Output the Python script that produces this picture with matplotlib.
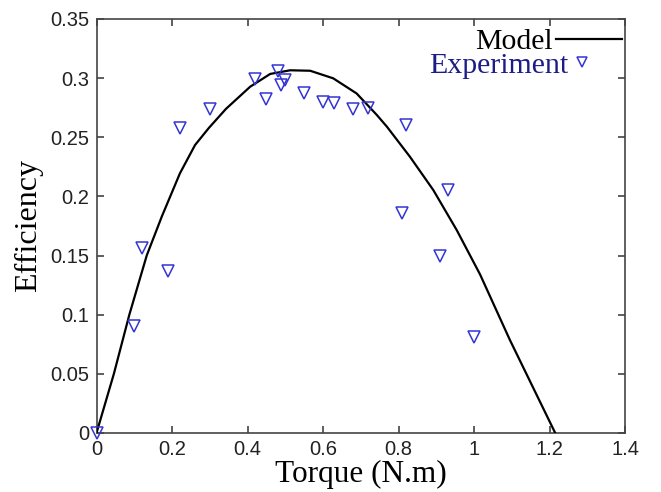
import matplotlib
matplotlib.use("Agg")
import matplotlib.pyplot as plt
from matplotlib.lines import Line2D

# model curve
model_torque = [0.0, 0.046, 0.087, 0.133, 0.173, 0.221, 0.261, 0.298, 0.343, 0.407,
                0.460, 0.513, 0.566, 0.627, 0.689, 0.742, 0.769, 0.830, 0.892, 0.954,
                1.016, 1.095, 1.215]
model_eff = [0.0, 0.050, 0.100, 0.150, 0.183, 0.2195, 0.2434, 0.258, 0.274, 0.2927,
             0.3035, 0.3066, 0.3062, 0.2998, 0.287, 0.269, 0.259, 0.2336, 0.2054, 0.1716,
             0.134, 0.0786, 0.0]

# experimental points
exp_torque = [0.0, 0.10, 0.12, 0.19, 0.22, 0.30, 0.42, 0.45, 0.48, 0.49, 0.50,
              0.55, 0.60, 0.63, 0.68, 0.72, 0.81, 0.82, 0.91, 0.93, 1.00]
exp_eff = [0.0, 0.090, 0.156, 0.137, 0.258, 0.274, 0.299, 0.282, 0.306, 0.294, 0.298,
           0.287, 0.280, 0.279, 0.274, 0.275, 0.186, 0.260, 0.150, 0.205, 0.081]

xticks = [0, 0.2, 0.4, 0.6, 0.8, 1.0, 1.2, 1.4]
xtick_labels = ["0", "0.2", "0.4", "0.6", "0.8", "1", "1.2", "1.4"]
yticks = [0, 0.05, 0.1, 0.15, 0.2, 0.25, 0.3, 0.35]
ytick_labels = ["0", "0.05", "0.1", "0.15", "0.2", "0.25", "0.3", "0.35"]

SERIF = "Liberation Serif"
SANS = "Liberation Sans"
MARK = "#3434d4"

fig = plt.figure(figsize=(6.61, 4.92), dpi=100)
ax = fig.add_axes([0.146, 0.120, 0.7996, 0.8415])

line, = ax.plot(model_torque, model_eff, color="black", lw=1.6, zorder=3,
                solid_joinstyle="round")
pts, = ax.plot(exp_torque, exp_eff, linestyle="none", marker="v", ms=8,
               mfc="none", mec=MARK, mew=1.1, zorder=4, clip_on=False)

ax.set_xlim(0, 1.4)
ax.set_ylim(0, 0.35)
ax.set_xticks(xticks)
ax.set_xticklabels(xtick_labels, fontfamily=SANS, fontsize=14.5, color="#222222")
ax.set_yticks(yticks)
ax.set_yticklabels(ytick_labels, fontfamily=SANS, fontsize=14.5, color="#222222")
ax.tick_params(direction="in", length=5, width=1.1, top=True, right=True,
               color="#333333", pad=5)
for s in ax.spines.values():
    s.set_color("#444444")
    s.set_linewidth(1.2)

ax.set_xlabel("Torque (N.m)", fontfamily=SERIF, fontsize=22.5, labelpad=1)
ax.set_ylabel("Efficiency", fontfamily=SERIF, fontsize=23, labelpad=5)

# legend: text first, sample after
leg1 = ax.legend([line], ["Model"], loc="center right", bbox_to_anchor=(0.994, 0.945),
                 markerfirst=False, frameon=False, borderpad=0, borderaxespad=0,
                 handlelength=2.2, handletextpad=0.1,
                 prop={"family": SERIF, "size": 21.5})
ax.add_artist(leg1)
exp_handle = Line2D([], [], linestyle="none", marker="v", ms=7, mfc="none",
                    mec=MARK, mew=1.1)
leg2 = ax.legend([exp_handle], ["Experiment"], loc="center right",
                 bbox_to_anchor=(0.935, 0.888), markerfirst=False, frameon=False,
                 borderpad=0, borderaxespad=0, handlelength=0.6, handletextpad=0.15,
                 numpoints=1, prop={"family": SERIF, "size": 21.5})
for t in leg2.get_texts():
    t.set_color("#1c1c86")

fig.savefig("out.png", dpi=100, facecolor="white")
